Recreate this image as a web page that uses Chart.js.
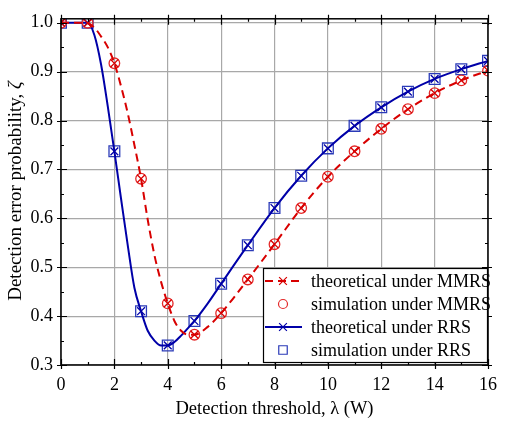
<!DOCTYPE html>
<html>
<head>
<meta charset="utf-8">
<script src="https://cdn.jsdelivr.net/npm/chart.js@4.4.1/dist/chart.umd.min.js"></script>
<style>
  html, body { margin: 0; padding: 0; background: #fff; }
  #wrap { width: 506px; height: 428px; }
</style>
</head>
<body>
<div id="wrap"><canvas id="errChart" width="506" height="428"></canvas></div>
<script>
// ---- data ----
const thresholds = [0, 1, 2, 3, 4, 5, 6, 7, 8, 9, 10, 11, 12, 13, 14, 15, 16];
const simMMRS = [1.0, 1.0, 0.917, 0.681, 0.426, 0.362, 0.406, 0.475, 0.547, 0.621, 0.685, 0.737, 0.783, 0.823, 0.856, 0.882, 0.902];
const simRRS = [1.0, 1.0, 0.737, 0.41, 0.34, 0.39, 0.466, 0.545, 0.621, 0.687, 0.743, 0.789, 0.827, 0.859, 0.885, 0.905, 0.922];

// theoretical curves, sampled more finely where they bend
const theoryX = [0, 0.5, 1, 1.25, 1.5, 1.75, 2, 2.25, 2.5, 2.75, 3, 3.25, 3.5, 3.75, 4, 4.25, 4.5, 4.75, 5, 5.5, 6, 7, 8, 9, 10, 11, 12, 13, 14, 15, 16];
const theoryMMRS = [1.0, 1.0, 0.999, 0.99, 0.972, 0.95, 0.917, 0.87, 0.815, 0.75, 0.681, 0.597, 0.525, 0.47, 0.426, 0.39, 0.37, 0.362, 0.362, 0.378, 0.406, 0.475, 0.547, 0.621, 0.685, 0.737, 0.783, 0.823, 0.856, 0.882, 0.902];
const theoryRRS = [1.0, 1.0, 1.0, 0.975, 0.915, 0.83, 0.737, 0.64, 0.545, 0.458, 0.41, 0.37, 0.35, 0.34, 0.34, 0.347, 0.36, 0.375, 0.39, 0.426, 0.466, 0.545, 0.621, 0.687, 0.743, 0.789, 0.827, 0.859, 0.885, 0.905, 0.922];

const seriesLabels = ['theoretical under MMRS', 'simulation under MMRS', 'theoretical under RRS', 'simulation under RRS'];
const xTickValues = [0, 2, 4, 6, 8, 10, 12, 14, 16];
const yTickValues = [0.3, 0.4, 0.5, 0.6, 0.7, 0.8, 0.9, 1.0];

const RED = '#d80000';
const RED_LIGHT = '#e42a2a';
const BLUE = '#0000a8';
const BLUE_LIGHT = '#2a3ab8';
const FONT = '"Liberation Serif", "Times New Roman", serif';

/**
 * Zip x and y arrays into {x, y} points
 */
function toPoints(xs, ys) {
    return xs.map((x, i) => ({ x: x, y: ys[i] }));
}

function isMajorY(v) {
    return yTickValues.some(t => Math.abs(t - v) < 1e-6);
}

/**
 * Ticks on all four sides (majors cross the axis, minors point inward) plus the box frame
 */
const framePlugin = {
    id: 'frame',
    afterDatasetsDraw(chart) {
        const { ctx, chartArea: a, scales } = chart;
        ctx.save();
        ctx.strokeStyle = '#000';
        ctx.lineWidth = 1.2;
        ctx.beginPath();
        for (let v = 0; v <= 16; v++) {
            const px = Math.round(scales.x.getPixelForValue(v)) + 0.5;
            const major = v % 2 === 0;
            const inLen = major ? 6 : 3;
            const outLen = major ? 4 : 0;
            ctx.moveTo(px, a.bottom + outLen); ctx.lineTo(px, a.bottom - inLen);
            ctx.moveTo(px, a.top - outLen); ctx.lineTo(px, a.top + inLen);
        }
        for (let k = 0; k <= 14; k++) {
            const v = 0.3 + k * 0.05;
            const py = Math.round(scales.y.getPixelForValue(v)) + 0.5;
            const major = k % 2 === 0;
            const inLen = major ? 6 : 3;
            const outLen = major ? 4 : 0;
            ctx.moveTo(a.left - outLen, py); ctx.lineTo(a.left + inLen, py);
            ctx.moveTo(a.right + outLen, py); ctx.lineTo(a.right - inLen, py);
        }
        ctx.stroke();
        ctx.lineWidth = 1.5;
        ctx.strokeRect(a.left, a.top, a.right - a.left, a.bottom - a.top);
        ctx.restore();
    }
};

/**
 * Axis titles (y title has an italic zeta)
 */
const titlePlugin = {
    id: 'titles',
    afterDraw(chart) {
        const { ctx, chartArea: a } = chart;
        ctx.save();
        ctx.fillStyle = '#000';
        ctx.textBaseline = 'middle';

        // x title
        ctx.font = '18.5px ' + FONT;
        ctx.textAlign = 'center';
        ctx.fillText('Detection threshold, \u03bb (W)', (a.left + a.right) / 2, 409);

        // y title, rotated
        const main = 'Detection error probability, ';
        const sym = '\u03b6';
        ctx.font = '19px ' + FONT;
        const w1 = ctx.measureText(main).width;
        ctx.font = 'italic 19px ' + FONT;
        const w2 = ctx.measureText(sym).width;
        ctx.translate(16, 191);
        ctx.rotate(-Math.PI / 2);
        ctx.textAlign = 'left';
        const start = -(w1 + w2) / 2;
        ctx.font = '19px ' + FONT;
        ctx.fillText(main, start, 0);
        ctx.font = 'italic 19px ' + FONT;
        ctx.fillText(sym, start + w1, 0);
        ctx.restore();
    }
};

/**
 * Legend box in the lower right of the plot area
 */
const legendPlugin = {
    id: 'boxLegend',
    afterDraw(chart) {
        const { ctx, chartArea: a } = chart;
        const box = { left: 263, top: 268, right: a.right, bottom: 363 };
        const rowY = [281, 304, 327, 350];
        const lineL = 265, lineR = 302, markX = 283, textX = 311;

        ctx.save();
        ctx.fillStyle = '#fff';
        ctx.fillRect(box.left, box.top, box.right - box.left, box.bottom - box.top);
        ctx.strokeStyle = '#000';
        ctx.lineWidth = 1.2;
        ctx.strokeRect(box.left + 0.5, box.top + 0.5, box.right - box.left - 1, box.bottom - box.top - 1);

        chart.data.datasets.forEach((ds, i) => {
            const y = rowY[i];
            if (ds.showLine !== false) {
                ctx.save();
                ctx.strokeStyle = ds.borderColor;
                ctx.lineWidth = ds.borderWidth;
                ctx.setLineDash(ds.borderDash || []);
                ctx.beginPath();
                ctx.moveTo(lineL, y);
                ctx.lineTo(lineR, y);
                ctx.stroke();
                ctx.restore();
            }
            ctx.save();
            ctx.strokeStyle = ds.pointBorderColor;
            ctx.fillStyle = 'rgba(0,0,0,0)';
            ctx.lineWidth = 1.2;
            Chart.helpers.drawPoint(ctx, {
                pointStyle: ds.legendStyle,
                radius: ds.legendRadius,
                borderWidth: 1.2
            }, markX, y);
            ctx.restore();

            ctx.fillStyle = '#000';
            ctx.font = '18px ' + FONT;
            ctx.textAlign = 'left';
            ctx.textBaseline = 'middle';
            ctx.fillText(seriesLabels[i], textX, y + 1);
        });
        ctx.restore();
    }
};

const theoryRadius = ctx => Number.isInteger(ctx.raw && ctx.raw.x) ? 5.5 : 0;

const chart = new Chart(document.getElementById('errChart').getContext('2d'), {
    type: 'line',
    data: {
        datasets: [
            {
                label: seriesLabels[0],
                data: toPoints(theoryX, theoryMMRS),
                borderColor: RED,
                borderWidth: 2,
                borderDash: [8, 5],
                cubicInterpolationMode: 'monotone',
                pointStyle: 'crossRot',
                pointRadius: theoryRadius,
                pointBorderColor: RED,
                pointBorderWidth: 1.3,
                legendStyle: 'crossRot',
                legendRadius: 5.5,
                fill: false
            },
            {
                label: seriesLabels[1],
                data: toPoints(thresholds, simMMRS),
                showLine: false,
                pointStyle: 'circle',
                pointRadius: 5.3,
                pointBorderColor: RED_LIGHT,
                pointBackgroundColor: 'rgba(0,0,0,0)',
                pointBorderWidth: 1.3,
                legendStyle: 'circle',
                legendRadius: 4.5
            },
            {
                label: seriesLabels[2],
                data: toPoints(theoryX, theoryRRS),
                borderColor: BLUE,
                borderWidth: 2,
                cubicInterpolationMode: 'monotone',
                pointStyle: 'crossRot',
                pointRadius: theoryRadius,
                pointBorderColor: BLUE,
                pointBorderWidth: 1.3,
                legendStyle: 'crossRot',
                legendRadius: 5.5,
                fill: false
            },
            {
                label: seriesLabels[3],
                data: toPoints(thresholds, simRRS),
                showLine: false,
                pointStyle: 'rect',
                pointRadius: 7.6,
                pointBorderColor: BLUE_LIGHT,
                pointBackgroundColor: 'rgba(0,0,0,0)',
                pointBorderWidth: 1.3,
                legendStyle: 'rect',
                legendRadius: 6
            }
        ]
    },
    options: {
        responsive: false,
        animation: false,
        layout: { padding: { top: 10, right: 9, left: 0, bottom: 0 } },
        plugins: {
            legend: { display: false },
            tooltip: { enabled: false }
        },
        scales: {
            x: {
                type: 'linear',
                min: 0,
                max: 16,
                afterBuildTicks: scale => {
                    scale.ticks = thresholds.map(v => ({ value: v }));
                },
                afterFit: scale => { scale.height = 63; },
                grid: {
                    drawTicks: false,
                    color: c => (c.tick && c.tick.value % 2 === 0) ? '#a8a8a8' : 'rgba(0,0,0,0)',
                    lineWidth: 1.2
                },
                border: { display: false },
                ticks: {
                    autoSkip: false,
                    maxRotation: 0,
                    padding: 9,
                    color: '#000',
                    font: { family: FONT, size: 18 },
                    callback: v => xTickValues.includes(v) ? String(v) : ''
                }
            },
            y: {
                type: 'linear',
                min: 0.3,
                max: 1.008,
                afterBuildTicks: scale => {
                    const list = [];
                    for (let k = 0; k <= 14; k++) list.push({ value: +(0.3 + k * 0.05).toFixed(2) });
                    scale.ticks = list;
                },
                afterFit: scale => { scale.width = 61; },
                grid: {
                    drawTicks: false,
                    color: c => (c.tick && isMajorY(c.tick.value)) ? '#a8a8a8' : 'rgba(0,0,0,0)',
                    lineWidth: 1.2
                },
                border: { display: false },
                ticks: {
                    autoSkip: false,
                    padding: 8,
                    color: '#000',
                    font: { family: FONT, size: 18 },
                    callback: v => isMajorY(v) ? v.toFixed(1) : ''
                }
            }
        }
    },
    plugins: [framePlugin, legendPlugin, titlePlugin]
});
</script>
</body>
</html>
